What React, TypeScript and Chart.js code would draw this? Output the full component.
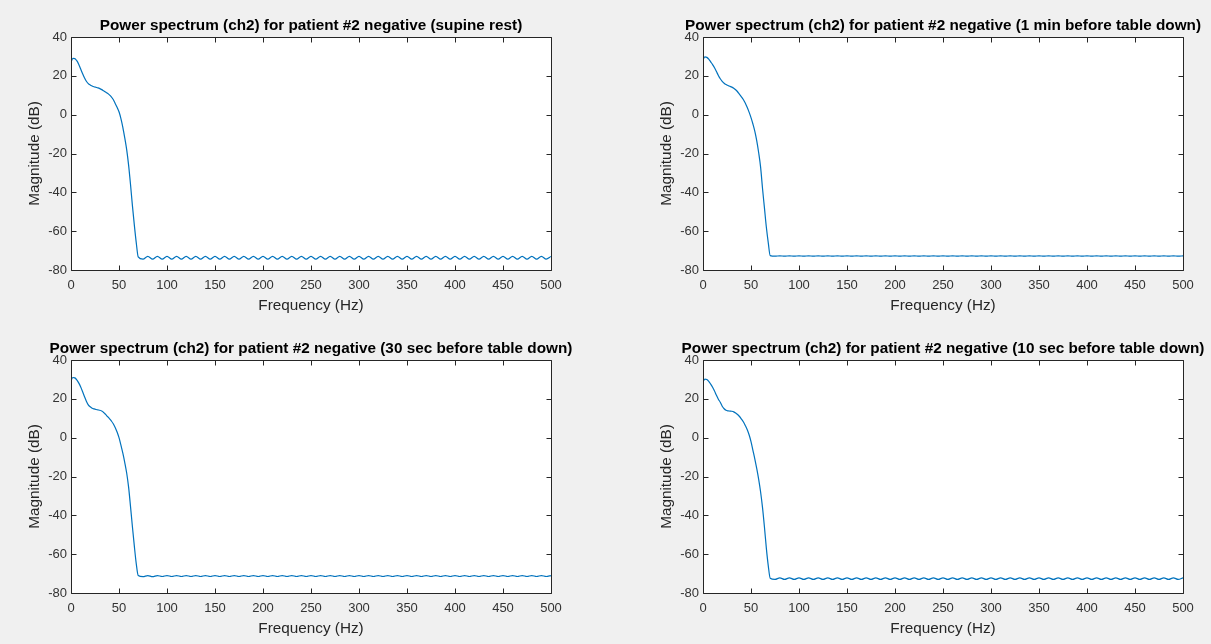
import React, { useEffect, useRef } from "react";
import { Chart, registerables } from "chart.js";

Chart.register(...registerables);

// ---- data ----
const lowFreqHz = [0, 2, 4, 6, 8, 10, 12, 14, 16, 18, 20, 22, 24, 26, 28, 30, 32, 34, 36, 38, 40, 42, 44, 46, 48, 50, 52, 54, 56, 58, 60, 62, 64, 66, 68, 70];
const rippleFreqHz = [
  75, 80, 85, 90, 95, 100, 105, 110, 115, 120,
  125, 130, 135, 140, 145, 150, 155, 160, 165, 170,
  175, 180, 185, 190, 195, 200, 205, 210, 215, 220,
  225, 230, 235, 240, 245, 250, 255, 260, 265, 270,
  275, 280, 285, 290, 295, 300, 305, 310, 315, 320,
  325, 330, 335, 340, 345, 350, 355, 360, 365, 370,
  375, 380, 385, 390, 395, 400, 405, 410, 415, 420,
  425, 430, 435, 440, 445, 450, 455, 460, 465, 470,
  475, 480, 485, 490, 495, 500,
];

const lowMagSupine = [27.0, 29.0, 28.9, 27.8, 26.0, 23.6, 21.2, 19.0, 17.2, 16.0, 15.3, 14.8, 14.4, 14.1, 13.8, 13.4, 12.9, 12.3, 11.7, 11.0, 10.2, 9.2, 7.8, 5.8, 3.8, 1.5, -2.0, -6.5, -12.0, -18.0, -26.0, -36.0, -47.0, -57.0, -66.0, -73.2];
const rippleMagSupine = [
  -74.4, -73.0, -74.4, -73.0, -74.4, -73.0, -74.4, -73.0, -74.4, -73.0,
  -74.4, -73.0, -74.4, -73.0, -74.4, -73.0, -74.4, -73.0, -74.4, -73.0,
  -74.4, -73.0, -74.4, -73.0, -74.4, -73.0, -74.4, -73.0, -74.4, -73.0,
  -74.4, -73.0, -74.4, -73.0, -74.4, -73.0, -74.4, -73.0, -74.4, -73.0,
  -74.4, -73.0, -74.4, -73.0, -74.4, -73.0, -74.4, -73.0, -74.4, -73.0,
  -74.4, -73.0, -74.4, -73.0, -74.4, -73.0, -74.4, -73.0, -74.4, -73.0,
  -74.4, -73.0, -74.4, -73.0, -74.4, -73.0, -74.4, -73.0, -74.4, -73.0,
  -74.4, -73.0, -74.4, -73.0, -74.4, -73.0, -74.4, -73.0, -74.4, -73.0,
  -74.4, -73.0, -74.4, -73.0, -74.4, -73.0,
];

const lowMag1min = [28.4, 29.8, 29.5, 28.6, 27.2, 25.8, 24.2, 22.2, 20.2, 18.5, 17.2, 16.2, 15.5, 15.0, 14.6, 14.2, 13.6, 12.8, 11.8, 10.5, 9.2, 7.8, 6.0, 3.8, 1.3, -1.5, -4.8, -8.6, -13.5, -19.6, -27.0, -38.0, -48.0, -58.0, -66.0, -72.6];
const rippleMag1min = [
  -72.9, -72.7, -72.9, -72.7, -72.9, -72.7, -72.9, -72.7, -72.9, -72.7,
  -72.9, -72.7, -72.9, -72.7, -72.9, -72.7, -72.9, -72.7, -72.9, -72.7,
  -72.9, -72.7, -72.9, -72.7, -72.9, -72.7, -72.9, -72.7, -72.9, -72.7,
  -72.9, -72.7, -72.9, -72.7, -72.9, -72.7, -72.9, -72.7, -72.9, -72.7,
  -72.9, -72.7, -72.9, -72.7, -72.9, -72.7, -72.9, -72.7, -72.9, -72.7,
  -72.9, -72.7, -72.9, -72.7, -72.9, -72.7, -72.9, -72.7, -72.9, -72.7,
  -72.9, -72.7, -72.9, -72.7, -72.9, -72.7, -72.9, -72.7, -72.9, -72.7,
  -72.9, -72.7, -72.9, -72.7, -72.9, -72.7, -72.9, -72.7, -72.9, -72.7,
  -72.9, -72.7, -72.9, -72.7, -72.9, -72.7,
];

const lowMag30sec = [29.5, 31.0, 30.8, 29.8, 28.2, 26.2, 23.8, 21.2, 18.8, 16.9, 15.9, 15.2, 14.8, 14.5, 14.3, 14.1, 13.7, 13.0, 12.0, 10.9, 9.8, 8.6, 7.2, 5.3, 2.9, 0.0, -3.8, -8.0, -12.8, -18.2, -25.5, -35.5, -46.0, -56.0, -65.0, -71.0];
const rippleMag30sec = [
  -71.6, -71.0, -71.6, -71.0, -71.5, -71.0, -71.5, -71.0, -71.5, -71.0,
  -71.5, -71.0, -71.5, -71.0, -71.5, -71.0, -71.5, -71.0, -71.5, -71.0,
  -71.5, -71.0, -71.5, -71.0, -71.5, -71.0, -71.5, -71.0, -71.5, -71.0,
  -71.5, -71.0, -71.5, -71.0, -71.5, -71.0, -71.5, -71.0, -71.5, -71.0,
  -71.5, -71.0, -71.5, -71.0, -71.5, -71.0, -71.5, -71.0, -71.5, -71.0,
  -71.5, -71.0, -71.5, -71.0, -71.5, -71.0, -71.5, -71.0, -71.5, -71.0,
  -71.5, -71.0, -71.5, -71.0, -71.5, -71.0, -71.5, -71.0, -71.5, -71.0,
  -71.5, -71.0, -71.5, -71.0, -71.5, -71.0, -71.5, -71.0, -71.5, -71.0,
  -71.5, -71.0, -71.5, -71.0, -71.5, -71.0,
];

const lowMag10sec = [28.8, 30.2, 29.9, 29.0, 27.6, 26.0, 24.0, 21.8, 19.8, 18.2, 16.2, 14.9, 14.1, 13.8, 13.7, 13.6, 13.3, 12.7, 11.9, 10.9, 9.6, 8.2, 6.3, 4.2, 1.5, -2.0, -6.5, -11.0, -16.0, -21.5, -28.0, -36.0, -46.0, -57.0, -66.0, -72.4];
const rippleMag10sec = [
  -73.0, -72.2, -73.0, -72.2, -73.0, -72.2, -73.0, -72.2, -73.0, -72.2,
  -73.0, -72.2, -73.0, -72.2, -73.0, -72.2, -73.0, -72.2, -73.0, -72.2,
  -73.0, -72.2, -73.0, -72.2, -73.0, -72.2, -73.0, -72.2, -73.0, -72.2,
  -73.0, -72.2, -73.0, -72.2, -73.0, -72.2, -73.0, -72.2, -73.0, -72.2,
  -73.0, -72.2, -73.0, -72.2, -73.0, -72.2, -73.0, -72.2, -73.0, -72.2,
  -73.0, -72.2, -73.0, -72.2, -73.0, -72.2, -73.0, -72.2, -73.0, -72.2,
  -73.0, -72.2, -73.0, -72.2, -73.0, -72.2, -73.0, -72.2, -73.0, -72.2,
  -73.0, -72.2, -73.0, -72.2, -73.0, -72.2, -73.0, -72.2, -73.0, -72.2,
  -73.0, -72.2, -73.0, -72.2, -73.0, -72.2,
];

const xTickValues = [0, 50, 100, 150, 200, 250, 300, 350, 400, 450, 500];
const yTickValues = [-80, -60, -40, -20, 0, 20, 40];

const titles = [
  "Power spectrum (ch2) for patient #2 negative (supine rest)",
  "Power spectrum (ch2) for patient #2 negative (1 min before table down)",
  "Power spectrum (ch2) for patient #2 negative (30 sec before table down)",
  "Power spectrum (ch2) for patient #2 negative (10 sec before table down)",
];
const xAxisLabel = "Frequency (Hz)";
const yAxisLabel = "Magnitude (dB)";

// ---- styling ----
const FONT = "'Liberation Sans', Arial, Helvetica, sans-serif";
const AXIS_COLOR = "#262626";
const LINE_COLOR = "#0072BD";
const CANVAS_W = 622;
const CANVAS_H = 322;
const LABEL_SIZE = 15.3;

const framePlugin = {
  id: "matlabFrame",
  beforeDraw(chart: any) {
    const { ctx, chartArea: a } = chart;
    ctx.save();
    ctx.fillStyle = "#ffffff";
    ctx.fillRect(a.left, a.top, a.right - a.left, a.bottom - a.top);
    ctx.restore();
  },
  afterDraw(chart: any) {
    const { ctx, chartArea: a } = chart;
    const xs = chart.scales.x;
    const ys = chart.scales.y;
    const L = Math.round(a.left) + 0.5;
    const R = Math.round(a.right) + 0.5;
    const T = Math.round(a.top) + 0.5;
    const B = Math.round(a.bottom) + 0.5;
    const tl = 5;
    ctx.save();
    ctx.strokeStyle = AXIS_COLOR;
    ctx.lineWidth = 1;
    ctx.beginPath();
    xTickValues.forEach((v) => {
      const px = Math.round(xs.getPixelForValue(v)) + 0.5;
      ctx.moveTo(px, B);
      ctx.lineTo(px, B - tl);
      ctx.moveTo(px, T);
      ctx.lineTo(px, T + tl);
    });
    yTickValues.forEach((v) => {
      const py = Math.round(ys.getPixelForValue(v)) + 0.5;
      ctx.moveTo(L, py);
      ctx.lineTo(L + tl, py);
      ctx.moveTo(R, py);
      ctx.lineTo(R - tl, py);
    });
    ctx.stroke();
    ctx.beginPath();
    ctx.rect(L, T, R - L, B - T);
    ctx.stroke();
    ctx.restore();
  },
};

function Panel(props: { title: string; low: number[]; ripple: number[]; left: number; top: number }) {
  const ref = useRef<HTMLCanvasElement | null>(null);
  useEffect(() => {
    if (!ref.current) return;
    const freq = lowFreqHz.concat(rippleFreqHz);
    const mag = props.low.concat(props.ripple);
    const points = freq.map((f, i) => ({ x: f, y: mag[i] }));
    const lh = LABEL_SIZE * 1.2;
    const titleCenter = 25.5;
    const chart = new Chart(ref.current, {
      type: "line",
      data: {
        datasets: [
          {
            data: points,
            borderColor: LINE_COLOR,
            borderWidth: 1.2,
            pointRadius: 0,
            fill: false,
            cubicInterpolationMode: "monotone",
          },
        ],
      },
      options: {
        animation: false,
        responsive: false,
        devicePixelRatio: 1,
        parsing: false,
        normalized: true,
        layout: { padding: 0 },
        plugins: {
          legend: { display: false },
          tooltip: { enabled: false },
          title: {
            display: true,
            text: props.title,
            color: "#000000",
            font: { family: FONT, size: LABEL_SIZE, weight: "bold", lineHeight: 1.2 },
            padding: { top: titleCenter - lh / 2, bottom: 37 - lh - (titleCenter - lh / 2) },
          },
        },
        scales: {
          x: {
            type: "linear",
            position: "bottom",
            min: 0,
            max: 500,
            afterBuildTicks: (s: any) => {
              s.ticks = xTickValues.map((v) => ({ value: v }));
            },
            afterFit: (s: any) => {
              s.height = 52;
            },
            grid: { display: false, drawTicks: false, tickLength: 0 },
            border: { display: false },
            ticks: {
              autoSkip: false,
              maxRotation: 0,
              padding: 8,
              color: "#333333",
              font: { family: FONT, size: 13 },
            },
            title: {
              display: true,
              text: xAxisLabel,
              color: AXIS_COLOR,
              font: { family: FONT, size: LABEL_SIZE, lineHeight: 1.2 },
              padding: { top: 0, bottom: 16 - lh / 2 },
            },
          },
          y: {
            type: "linear",
            position: "left",
            min: -80,
            max: 40,
            afterBuildTicks: (s: any) => {
              s.ticks = yTickValues.map((v) => ({ value: v }));
            },
            afterFit: (s: any) => {
              s.width = 71;
            },
            grid: { display: false, drawTicks: false, tickLength: 0 },
            border: { display: false },
            ticks: {
              autoSkip: false,
              padding: 4,
              color: "#333333",
              font: { family: FONT, size: 13 },
            },
            title: {
              display: true,
              text: yAxisLabel,
              color: AXIS_COLOR,
              font: { family: FONT, size: LABEL_SIZE, lineHeight: 1.2 },
              padding: { top: 35 - lh / 2, bottom: 0 },
            },
          },
          yRight: {
            type: "linear",
            position: "right",
            display: true,
            min: -80,
            max: 40,
            afterFit: (s: any) => {
              s.width = 71;
            },
            grid: { display: false },
            border: { display: false },
            ticks: { display: false },
          },
        },
      },
      plugins: [framePlugin],
    } as any);
    return () => chart.destroy();
  }, []);
  return (
    <canvas
      ref={ref}
      width={CANVAS_W}
      height={CANVAS_H}
      style={{ position: "absolute", left: props.left, top: props.top, width: CANVAS_W, height: CANVAS_H }}
    />
  );
}

export default function App() {
  return (
    <div
      style={{
        position: "fixed",
        left: 0,
        top: 0,
        width: 1211,
        height: 644,
        background: "#f0f0f0",
        overflow: "hidden",
      }}
    >
      <Panel title={titles[0]} low={lowMagSupine} ripple={rippleMagSupine} left={0} top={0} />
      <Panel title={titles[1]} low={lowMag1min} ripple={rippleMag1min} left={632} top={0} />
      <Panel title={titles[2]} low={lowMag30sec} ripple={rippleMag30sec} left={0} top={323} />
      <Panel title={titles[3]} low={lowMag10sec} ripple={rippleMag10sec} left={632} top={323} />
    </div>
  );
}
